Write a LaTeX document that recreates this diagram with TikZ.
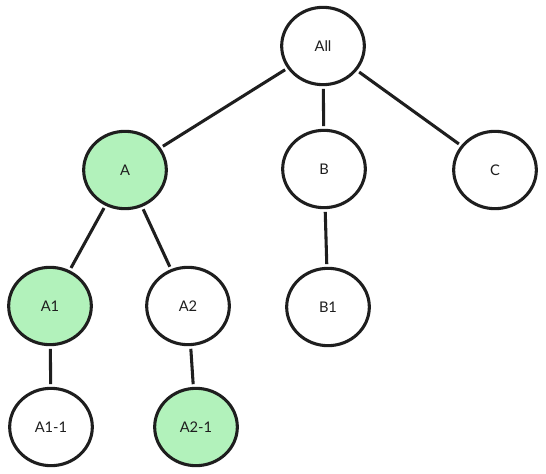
\documentclass[tikz,border=0pt]{standalone}
\usepackage{fontspec}
\setmainfont{Lato}
\usepackage{tikz}
\usetikzlibrary{shapes.geometric}
\definecolor{leaf}{HTML}{B2F2BB}
\definecolor{ink}{HTML}{1E1E1E}

\begin{document}
\begin{tikzpicture}[x=0.75pt,y=-0.75pt,
    vtx/.style={ellipse,draw=ink,line width=2.3pt,fill=white,minimum width=62pt,minimum height=58pt,inner sep=0pt,font=\fontsize{11}{13}\selectfont,text=ink},
    hit/.style={vtx,fill=leaf},
    edge/.style={draw=ink,line width=2.3pt,shorten >=2pt,shorten <=2pt}]
    \useasboundingbox (0,0) rectangle (546,474);
    \node[vtx] (all) at (323,46) {All};
    \node[hit] (a) at (125,170) {A};
    \node[vtx] (b) at (324,169) {B};
    \node[vtx] (c) at (495,170) {C};
    \node[hit] (a1) at (50,306) {A1};
    \node[vtx] (a2) at (188,306) {A2};
    \node[vtx] (b1) at (328,307) {B1};
    \node[vtx] (a11) at (51,427) {A1-1};
    \node[hit] (a21) at (196,427) {A2-1};
    \foreach \p/\q in {all/a,all/b,all/c,a/a1,a/a2,b/b1,a1/a11,a2/a21}
        \draw[edge] (\p) -- (\q);
\end{tikzpicture}
\end{document}
